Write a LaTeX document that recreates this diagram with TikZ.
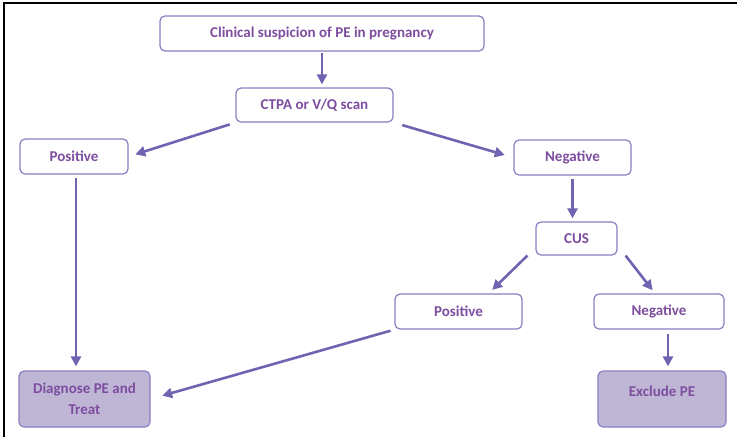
\documentclass[tikz,border=0pt]{standalone}
\usepackage{fontspec}
\setmainfont{Carlito}
\usetikzlibrary{arrows.meta}

\definecolor{boxline}{HTML}{8A7FC2}
\definecolor{arrowcol}{HTML}{6F64B1}
\definecolor{textcol}{HTML}{7D4E9F}
\definecolor{endfill}{HTML}{BFB6D6}

\tikzset{
	stepbox/.style={draw=boxline, line width=1.2pt, rounded corners=5pt, fill=white, text=textcol, font=\bfseries\fontsize{15}{21}\selectfont, inner sep=0pt, align=center},
	endbox/.style={stepbox, fill=endfill},
	flow/.style={draw=arrowcol, line width=2.6pt, -{Triangle[length=10pt,width=10pt]}}
}

\begin{document}
\begin{tikzpicture}[x=1pt, y=-1pt]
	\useasboundingbox (0,0) rectangle (737,437);
	%frame
	\draw[line width=1.4pt] (4,437) -- (4,3) -- (737,3);
	
	%boxes
	\node[stepbox, minimum width=324pt, minimum height=35pt] (clin) at (322,33.5) {Clinical suspicion of PE in pregnancy};
	\node[stepbox, minimum width=157pt, minimum height=34pt] (ctpa) at (314.5,105) {CTPA or V/Q scan};
	\node[stepbox, minimum width=108pt, minimum height=35pt] (posl) at (74,156.5) {Positive};
	\node[stepbox, minimum width=117pt, minimum height=35pt] (negt) at (572.5,157.5) {Negative};
	\node[stepbox, minimum width=81pt, minimum height=33pt] (cus) at (576.5,238.5) {CUS};
	\node[stepbox, minimum width=127pt, minimum height=35pt] (posm) at (458.5,311.5) {Positive};
	\node[stepbox, minimum width=130pt, minimum height=35pt] (negr) at (659,311.5) {Negative};
	\node[endbox, minimum width=131pt, minimum height=56pt] (diag) at (84.5,399) {Diagnose PE and\\Treat};
	\node[endbox, minimum width=128pt, minimum height=56pt, text height=11pt, text depth=15.5pt] (excl) at (662,399) {Exclude PE};
	
	%arrows
	\draw[flow, shorten <=1pt, shorten >=3pt] (clin.south) -- (clin.south |- ctpa.north);
	\draw[flow, shorten <=6pt, shorten >=7pt] (ctpa.south west) -- (posl.east);
	\draw[flow, shorten <=9pt, shorten >=9pt] (ctpa.south east) -- (negt.west);
	\draw[flow, shorten <=3pt, shorten >=3pt] (negt.south) -- (negt.south |- cus.north);
	\draw[flow, shorten >=5pt] ([xshift=-8pt]cus.south west) -- ([xshift=-34pt]posm.north east);
	\draw[flow, shorten >=4pt] ([xshift=8pt]cus.south east) -- ([xshift=-4pt]negr.north);
	\draw[flow, shorten <=3pt, shorten >=4pt] ([xshift=2pt]posl.south) -- ([xshift=2pt]posl.south |- diag.north);
	\draw[flow, shorten <=4pt, shorten >=12pt] (posm.south west) -- (diag.east);
	\draw[flow, shorten <=4pt, shorten >=4pt] ([xshift=9pt]negr.south) -- ([xshift=9pt]negr.south |- excl.north);
\end{tikzpicture}
\end{document}
